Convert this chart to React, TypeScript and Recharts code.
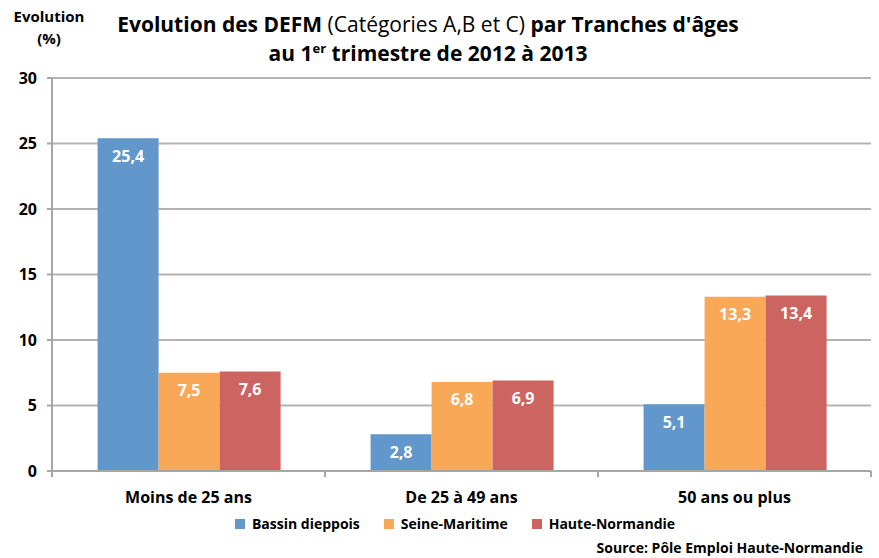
import React from 'react';
import { BarChart, Bar, XAxis, YAxis, CartesianGrid, LabelList } from 'recharts';

const categories = ['Moins de 25 ans', 'De 25 à 49 ans', '50 ans ou plus'];
const bassinDieppois = [25.4, 2.8, 5.1];
const seineMaritime = [7.5, 6.8, 13.3];
const hauteNormandie = [7.6, 6.9, 13.4];
const yTicks = [0, 5, 10, 15, 20, 25, 30];

const data = categories.map((name, i) => ({
  name,
  bassin: bassinDieppois[i],
  seine: seineMaritime[i],
  haute: hauteNormandie[i],
}));

const FONT = '"Open Sans", Lato, sans-serif';
const W = 879;
const H = 558;
const X_H = 30;
const M = { top: 78, right: 8, bottom: 87 - X_H, left: 0 };
const Y_W = 52;
const BAND = (W - M.right - Y_W) / categories.length;

const fmt = (v: number) => v.toFixed(1).replace('.', ',');

const legendItems = [
  { label: 'Bassin dieppois', color: '#6197cb' },
  { label: 'Seine-Maritime', color: '#f9a858' },
  { label: 'Haute-Normandie', color: '#cc6461' },
];

const XTick = (props: any) => {
  const { x, y, payload, index } = props;
  return (
    <g>
      <line x1={x - BAND / 2} x2={x - BAND / 2} y1={y - 8} y2={y - 2} stroke="#a6a6a6" strokeWidth={2} />
      {index === categories.length - 1 && (
        <line x1={x + BAND / 2} x2={x + BAND / 2} y1={y - 8} y2={y - 2} stroke="#a6a6a6" strokeWidth={2} />
      )}
      <text x={x} y={y + 24} textAnchor="middle" fontFamily={FONT} fontWeight={700} fontSize={16} fill="#000">
        {payload.value}
      </text>
    </g>
  );
};

export default function App() {
  return (
    <div style={{ position: 'absolute', left: 0, top: 0, width: W, height: H, background: '#fff' }}>
      <div style={{ position: 'absolute', left: 0, top: 5, width: 98, textAlign: 'center', fontFamily: FONT, fontWeight: 700, fontSize: 15, lineHeight: '22px', color: '#000' }}>
        Evolution
        <br />
        (%)
      </div>
      <div style={{ position: 'absolute', left: 0, top: 10, width: 856, textAlign: 'center', fontFamily: FONT, fontWeight: 700, fontSize: 21, lineHeight: '29px', color: '#000' }}>
        Evolution des DEFM <span style={{ fontWeight: 400 }}>(Catégories A,B et C)</span> par Tranches d'âges
        <br />
        au 1<sup style={{ fontSize: 13, lineHeight: 0 }}>er</sup> trimestre de 2012 à 2013
      </div>
      <BarChart width={W} height={H} data={data} margin={M} barCategoryGap="16.7%" barGap={0}>
        <CartesianGrid vertical={false} stroke="#b3b3b3" strokeWidth={2} />
        <XAxis
          dataKey="name"
          height={X_H}
          axisLine={{ stroke: '#a6a6a6', strokeWidth: 2 }}
          tickLine={false}
          tick={<XTick />}
          interval={0}
        />
        <YAxis
          width={Y_W}
          domain={[0, 30]}
          ticks={yTicks}
          interval={0}
          axisLine={{ stroke: '#a6a6a6', strokeWidth: 2 }}
          tickLine={{ stroke: '#a6a6a6', strokeWidth: 2 }}
          tickSize={5}
          tick={{ fontFamily: FONT, fontWeight: 700, fontSize: 16, fill: '#000', dx: -8 }}
        />
        <Bar dataKey="bassin" name="Bassin dieppois" fill="#6197cb" isAnimationActive={false}>
          <LabelList dataKey="bassin" position="insideTop" offset={12} formatter={fmt} fill="#fff" fontFamily={FONT} fontWeight={700} fontSize={16} />
        </Bar>
        <Bar dataKey="seine" name="Seine-Maritime" fill="#f9a858" isAnimationActive={false}>
          <LabelList dataKey="seine" position="insideTop" offset={12} formatter={fmt} fill="#fff" fontFamily={FONT} fontWeight={700} fontSize={16} />
        </Bar>
        <Bar dataKey="haute" name="Haute-Normandie" fill="#cc6461" isAnimationActive={false}>
          <LabelList dataKey="haute" position="insideTop" offset={12} formatter={fmt} fill="#fff" fontFamily={FONT} fontWeight={700} fontSize={16} />
        </Bar>
      </BarChart>
      <div style={{ position: 'absolute', left: 0, top: 514, width: 910, display: 'flex', justifyContent: 'center', fontFamily: FONT, fontWeight: 700, fontSize: 14, color: '#000' }}>
        {legendItems.map((it) => (
          <div key={it.label} style={{ display: 'flex', alignItems: 'center', margin: '0 12px' }}>
            <span style={{ display: 'inline-block', width: 10, height: 10, background: it.color, marginRight: 7 }} />
            <span>{it.label}</span>
          </div>
        ))}
      </div>
      <div style={{ position: 'absolute', right: 16, top: 538, fontFamily: FONT, fontWeight: 700, fontSize: 14, color: '#000' }}>
        Source: Pôle Emploi Haute-Normandie
      </div>
    </div>
  );
}
